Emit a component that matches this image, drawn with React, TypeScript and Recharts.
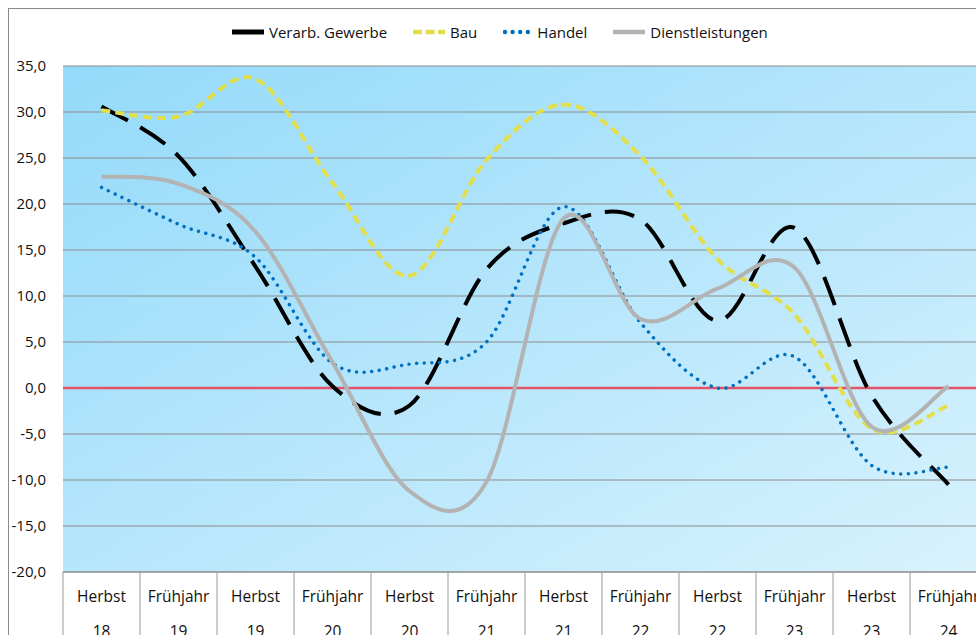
import React from 'react';
import { LineChart, Line, XAxis, YAxis, CartesianGrid, ReferenceLine, Legend } from 'recharts';

const categories = [
  'Herbst 18', 'Frühjahr 19', 'Herbst 19', 'Frühjahr 20', 'Herbst 20', 'Frühjahr 21',
  'Herbst 21', 'Frühjahr 22', 'Herbst 22', 'Frühjahr 23', 'Herbst 23', 'Frühjahr 24',
];
const verarbGewerbe = [30.6, 25.2, 13.2, 0.2, -1.9, 12.9, 17.9, 18.3, 7.3, 17.4, -0.8, -10.5];
const bau = [30.2, 29.5, 33.6, 22.3, 12.2, 24.8, 30.8, 25.2, 14.0, 8.0, -4.4, -1.9];
const handel = [21.8, 17.8, 14.2, 2.7, 2.6, 5.0, 19.7, 7.1, 0.0, 3.4, -8.4, -8.6];
const dienstleistungen = [23.0, 22.2, 17.0, 2.8, -11.2, -10.2, 18.4, 7.5, 10.8, 13.1, -4.2, 0.2];
const yTicks = [-20, -15, -10, -5, 0, 5, 10, 15, 20, 25, 30, 35];

const data = categories.map((cat, i) => ({
  cat,
  verarb: verarbGewerbe[i],
  bau: bau[i],
  handel: handel[i],
  dienst: dienstleistungen[i],
}));

const series = [
  { key: 'verarb', name: 'Verarb. Gewerbe', color: '#000000', width: 4, dash: '30 14', cap: 'butt' },
  { key: 'bau', name: 'Bau', color: '#e2df4a', width: 4, dash: '9 5', cap: 'butt' },
  { key: 'handel', name: 'Handel', color: '#0070c0', width: 3.5, dash: '0.01 7.6', cap: 'round' },
  { key: 'dienst', name: 'Dienstleistungen', color: '#b3b3b3', width: 4, dash: undefined, cap: 'butt' },
];

const CHART_W = 1000;
const CHART_H = 700;
const MARGIN = { top: 57, right: 22, bottom: 57, left: 0 };
const Y_AXIS_W = 54;
const X_AXIS_H = 80;
const PLOT_W = CHART_W - MARGIN.left - MARGIN.right - Y_AXIS_W;
const HALF = PLOT_W / categories.length / 2;
const FONT = '"Open Sans", "DejaVu Sans", sans-serif';

// Excel-like smoothing (Catmull-Rom as cubic Bezier)
const excelSmooth = (context: any) => {
  let pts: number[][] = [];
  return {
    areaStart() {},
    areaEnd() {},
    lineStart() {
      pts = [];
    },
    point(x: number, y: number) {
      pts.push([+x, +y]);
    },
    lineEnd() {
      const n = pts.length;
      if (!n) return;
      context.moveTo(pts[0][0], pts[0][1]);
      if (n === 2) {
        context.lineTo(pts[1][0], pts[1][1]);
        return;
      }
      const t = 1 / 6;
      for (let i = 0; i < n - 1; i++) {
        const p0 = pts[i - 1] || pts[i];
        const p1 = pts[i];
        const p2 = pts[i + 1];
        const p3 = pts[i + 2] || p2;
        context.bezierCurveTo(
          p1[0] + (p2[0] - p0[0]) * t,
          p1[1] + (p2[1] - p0[1]) * t,
          p2[0] - (p3[0] - p1[0]) * t,
          p2[1] - (p3[1] - p1[1]) * t,
          p2[0],
          p2[1]
        );
      }
    },
  };
};

const XTick = (props: any) => {
  const { x, y, payload, index } = props;
  const [season, year] = String(payload.value).split(' ');
  const isLast = index === categories.length - 1;
  return (
    <g>
      <line x1={x - HALF} y1={y} x2={x - HALF} y2={y + 90} stroke="#9a9a9a" strokeWidth={1} />
      {isLast && <line x1={x + HALF} y1={y} x2={x + HALF} y2={y + 90} stroke="#9a9a9a" strokeWidth={1} />}
      <text x={x} y={y + 24} textAnchor="middle" dominantBaseline="central" fontFamily={FONT} fontSize={15.5} fill="#111">
        {season}
      </text>
      <text x={x} y={y + 59} textAnchor="middle" dominantBaseline="central" fontFamily={FONT} fontSize={15.5} fill="#111">
        {year}
      </text>
    </g>
  );
};

const LegendContent = () => (
  <div style={{ display: 'flex', alignItems: 'center', fontFamily: FONT, fontSize: 15, color: '#111', whiteSpace: 'nowrap' }}>
    {series.map((s) => (
      <div key={s.key} style={{ display: 'flex', alignItems: 'center', marginRight: 26 }}>
        <svg width={32} height={10} style={{ marginRight: s.key === 'handel' ? 2 : 5 }}>
          <line
            x1={s.cap === 'round' ? 2 : 0}
            y1={5}
            x2={s.cap === 'round' ? 31 : 32}
            y2={5}
            stroke={s.color}
            strokeWidth={s.key === 'verarb' ? 5 : 4.5}
            strokeDasharray={s.key === 'verarb' ? undefined : s.key === 'bau' ? '9 3.5' : s.dash}
            strokeLinecap={s.cap as any}
          />
        </svg>
        <span>{s.name}</span>
      </div>
    ))}
  </div>
);

export default function App() {
  return (
    <div
      style={{
        position: 'absolute',
        left: 8,
        top: 8,
        width: 968,
        height: 627,
        overflow: 'hidden',
        boxSizing: 'border-box',
        borderTop: '1px solid #8a8a8a',
        borderLeft: '1px solid #8a8a8a',
        background: '#fff',
      }}
    >
      <LineChart width={CHART_W} height={CHART_H} data={data} margin={MARGIN}>
        <defs>
          <linearGradient id="plotBg" x1="0" y1="0" x2="1" y2="1">
            <stop offset="0%" stopColor="#94dafa" />
            <stop offset="100%" stopColor="#d8f2fd" />
          </linearGradient>
        </defs>
        <CartesianGrid vertical={false} stroke="#8c8c8c" strokeWidth={1} fill="url(#plotBg)" fillOpacity={1} />
        <XAxis
          dataKey="cat"
          type="category"
          interval={0}
          padding={{ left: HALF, right: HALF }}
          height={X_AXIS_H}
          tickLine={false}
          tickSize={0}
          tickMargin={0}
          axisLine={{ stroke: '#8c8c8c' }}
          tick={<XTick />}
        />
        <YAxis
          domain={[-20, 35]}
          ticks={yTicks}
          type="number"
          width={Y_AXIS_W}
          axisLine={false}
          tickLine={false}
          tickSize={0}
          tickMargin={17}
          interval={0}
          tickFormatter={(v: number) => v.toFixed(1).replace('.', ',')}
          tick={{ fontFamily: FONT, fontSize: 15, fill: '#111' }}
        />
        <ReferenceLine y={0} stroke="#e35468" strokeWidth={2.5} ifOverflow="visible" />
        <Legend
          verticalAlign="middle"
          align="center"
          layout="horizontal"
          content={<LegendContent />}
          wrapperStyle={{ top: 13, left: 223, width: 700, height: 22 }}
        />
        {series.map((s) => (
          <Line
            key={s.key}
            dataKey={s.key}
            name={s.name}
            type={excelSmooth as any}
            stroke={s.color}
            strokeWidth={s.width}
            strokeDasharray={s.dash}
            strokeLinecap={s.cap as any}
            dot={false}
            activeDot={false}
            isAnimationActive={false}
          />
        ))}
      </LineChart>
    </div>
  );
}
